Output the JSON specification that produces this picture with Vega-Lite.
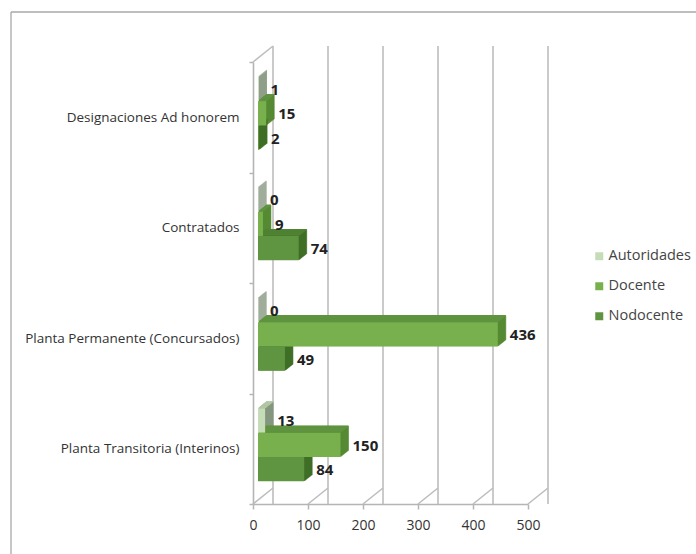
{"$schema":"https://vega.github.io/schema/vega-lite/v6.json","width":275,"height":442,"autosize":"none","padding":{"left":253,"top":62,"right":168,"bottom":50},"background":"white",
"datasets":{"bars":[
{"cat":"Designaciones Ad honorem","serie":"Autoridades","v":1},{"cat":"Designaciones Ad honorem","serie":"Docente","v":15},{"cat":"Designaciones Ad honorem","serie":"Nodocente","v":2},
{"cat":"Contratados","serie":"Autoridades","v":0},{"cat":"Contratados","serie":"Docente","v":9},{"cat":"Contratados","serie":"Nodocente","v":74},
{"cat":"Planta Permanente (Concursados)","serie":"Autoridades","v":0},{"cat":"Planta Permanente (Concursados)","serie":"Docente","v":436},{"cat":"Planta Permanente (Concursados)","serie":"Nodocente","v":49},
{"cat":"Planta Transitoria (Interinos)","serie":"Autoridades","v":13},{"cat":"Planta Transitoria (Interinos)","serie":"Docente","v":150},{"cat":"Planta Transitoria (Interinos)","serie":"Nodocente","v":84}],
"ticks":[{"t":0},{"t":100},{"t":200},{"t":300},{"t":400},{"t":500}]},
"config":{"view":{"stroke":null}},
"resolve":{"scale":{"yOffset":"independent","fill":"independent","stroke":"independent"}},
"layer":[
{"data":{"values":[{"frame":"top"}]},"mark":{"type":"rule","color":"#a8a8a8","strokeWidth":1.3},"encoding":{"x":{"value":-242},"x2":{"value":443},"y":{"value":-50},"y2":{"value":-50}}},
{"data":{"values":[{"frame":"left"}]},"mark":{"type":"rule","color":"#a8a8a8","strokeWidth":1.3},"encoding":{"x":{"value":-242},"x2":{"value":-242},"y":{"value":-50},"y2":{"value":492}}},
{"data":{"name":"ticks"},"mark":{"type":"rule","xOffset":20,"yOffset":-16,"color":"#bdbdbd","strokeWidth":1.6},"encoding":{"x":{"field":"t","type":"quantitative","scale":{"domain":[0,500],"nice":false},"axis":{"values":[0,100,200,300,400,500],"title":null,"grid":false,"labelFlush":false,"domainColor":"#b5b5b5","domainWidth":1.6,"tickColor":"#b5b5b5","tickWidth":1.5,"tickSize":5,"labelFont":"Open Sans","labelFontSize":14,"labelColor":"#333333","labelPadding":9}}}},
{"data":{"name":"ticks"},"mark":{"type":"rule","x2Offset":20,"color":"#bdbdbd","strokeWidth":1.6},"encoding":{"x":{"field":"t","type":"quantitative"},"x2":{"field":"t"},"y":{"value":442},"y2":{"value":426}}},
{"data":{"name":"ticks"},"transform":[{"filter":"datum.t==0"}],"mark":{"type":"rule","x2Offset":20,"color":"#bdbdbd","strokeWidth":1.6},"encoding":{"x":{"field":"t","type":"quantitative"},"x2":{"field":"t"},"y":{"value":0},"y2":{"value":-16}}},
{"data":{"name":"bars"},
"encoding":{"y":{"field":"cat","type":"nominal","sort":["Designaciones Ad honorem","Contratados","Planta Permanente (Concursados)","Planta Transitoria (Interinos)"],"scale":{"paddingInner":0,"paddingOuter":0},"axis":{"title":null,"domainColor":"#b5b5b5","domainWidth":1.6,"tickColor":"#b5b5b5","tickWidth":1.5,"tickSize":4,"tickBand":"extent","labelFont":"Open Sans","labelFontSize":13.5,"labelColor":"#333333","labelPadding":10,"labelLimit":240}},"x":{"field":"v","type":"quantitative"},"x2":{"datum":0}},
"resolve":{"scale":{"yOffset":"independent","fill":"independent","stroke":"independent"}},
"layer":[
{"encoding":{"fill":{"field":"serie","type":"nominal","scale":{"range":["#84967d","#558a33","#3f6e26"]},"legend":null},"stroke":{"field":"serie","type":"nominal","scale":{"range":["#84967d","#558a33","#3f6e26"]},"legend":null}},
"resolve":{"scale":{"yOffset":"independent"}},
"layer":[
{"mark":{"type":"rect","strokeWidth":0.6,"xOffset":6,"x2Offset":6},"encoding":{"yOffset":{"field":"serie","type":"nominal","sort":["Autoridades","Docente","Nodocente"],"scale":{"range":[14,87]}}}},
{"mark":{"type":"rect","strokeWidth":0.6,"xOffset":7,"x2Offset":7},"encoding":{"yOffset":{"field":"serie","type":"nominal","sort":["Autoridades","Docente","Nodocente"],"scale":{"range":[13.2,86.2]}}}},
{"mark":{"type":"rect","strokeWidth":0.6,"xOffset":8,"x2Offset":8},"encoding":{"yOffset":{"field":"serie","type":"nominal","sort":["Autoridades","Docente","Nodocente"],"scale":{"range":[12.4,85.4]}}}},
{"mark":{"type":"rect","strokeWidth":0.6,"xOffset":9,"x2Offset":9},"encoding":{"yOffset":{"field":"serie","type":"nominal","sort":["Autoridades","Docente","Nodocente"],"scale":{"range":[11.6,84.6]}}}},
{"mark":{"type":"rect","strokeWidth":0.6,"xOffset":10,"x2Offset":10},"encoding":{"yOffset":{"field":"serie","type":"nominal","sort":["Autoridades","Docente","Nodocente"],"scale":{"range":[10.8,83.8]}}}},
{"mark":{"type":"rect","strokeWidth":0.6,"xOffset":11,"x2Offset":11},"encoding":{"yOffset":{"field":"serie","type":"nominal","sort":["Autoridades","Docente","Nodocente"],"scale":{"range":[10,83]}}}},
{"mark":{"type":"rect","strokeWidth":0.6,"xOffset":12,"x2Offset":12},"encoding":{"yOffset":{"field":"serie","type":"nominal","sort":["Autoridades","Docente","Nodocente"],"scale":{"range":[9.2,82.2]}}}},
{"mark":{"type":"rect","strokeWidth":0.6,"xOffset":13,"x2Offset":13},"encoding":{"yOffset":{"field":"serie","type":"nominal","sort":["Autoridades","Docente","Nodocente"],"scale":{"range":[8.4,81.4]}}}}
]},
{"encoding":{"stroke":{"field":"serie","type":"nominal","scale":{"range":["#b3c7a6","#5f9340","#4f8232"]},"legend":null}},
"resolve":{"scale":{"yOffset":"independent"}},
"layer":[
{"mark":{"type":"rule","strokeWidth":1.3,"xOffset":6,"x2Offset":6},"encoding":{"yOffset":{"field":"serie","type":"nominal","sort":["Autoridades","Docente","Nodocente"],"scale":{"range":[1.83,74.83]}}}},
{"mark":{"type":"rule","strokeWidth":1.3,"xOffset":7,"x2Offset":7},"encoding":{"yOffset":{"field":"serie","type":"nominal","sort":["Autoridades","Docente","Nodocente"],"scale":{"range":[1.03,74.03]}}}},
{"mark":{"type":"rule","strokeWidth":1.3,"xOffset":8,"x2Offset":8},"encoding":{"yOffset":{"field":"serie","type":"nominal","sort":["Autoridades","Docente","Nodocente"],"scale":{"range":[0.23,73.23]}}}},
{"mark":{"type":"rule","strokeWidth":1.3,"xOffset":9,"x2Offset":9},"encoding":{"yOffset":{"field":"serie","type":"nominal","sort":["Autoridades","Docente","Nodocente"],"scale":{"range":[-0.57,72.43]}}}},
{"mark":{"type":"rule","strokeWidth":1.3,"xOffset":10,"x2Offset":10},"encoding":{"yOffset":{"field":"serie","type":"nominal","sort":["Autoridades","Docente","Nodocente"],"scale":{"range":[-1.37,71.63]}}}},
{"mark":{"type":"rule","strokeWidth":1.3,"xOffset":11,"x2Offset":11},"encoding":{"yOffset":{"field":"serie","type":"nominal","sort":["Autoridades","Docente","Nodocente"],"scale":{"range":[-2.17,70.83]}}}},
{"mark":{"type":"rule","strokeWidth":1.3,"xOffset":12,"x2Offset":12},"encoding":{"yOffset":{"field":"serie","type":"nominal","sort":["Autoridades","Docente","Nodocente"],"scale":{"range":[-2.97,70.03]}}}},
{"mark":{"type":"rule","strokeWidth":1.3,"xOffset":13,"x2Offset":13},"encoding":{"yOffset":{"field":"serie","type":"nominal","sort":["Autoridades","Docente","Nodocente"],"scale":{"range":[-3.77,69.23]}}}}
]},
{"mark":{"type":"rect","xOffset":5,"x2Offset":5},"encoding":{"yOffset":{"field":"serie","type":"nominal","sort":["Autoridades","Docente","Nodocente"],"scale":{"range":[14.8,87.8]}},"fill":{"field":"serie","type":"nominal","sort":["Autoridades","Docente","Nodocente"],"scale":{"range":["#c6dcb9","#78b04e","#5f9440"]},"legend":{"title":null,"orient":"none","legendX":339,"legendY":187,"symbolType":"square","symbolSize":64,"symbolStrokeWidth":0,"labelFont":"Open Sans","labelFontSize":14.5,"labelColor":"#444444","labelOffset":2,"rowPadding":15}}}},
{"mark":{"type":"text","align":"left","baseline":"middle","dx":17,"dy":1,"font":"Open Sans","fontWeight":"bold","fontSize":15,"color":"#222222"},"encoding":{"x2":null,"yOffset":{"field":"serie","type":"nominal","sort":["Autoridades","Docente","Nodocente"],"scale":{"range":[14.8,87.8]}},"text":{"field":"v","type":"quantitative"}}}
]}
]}
